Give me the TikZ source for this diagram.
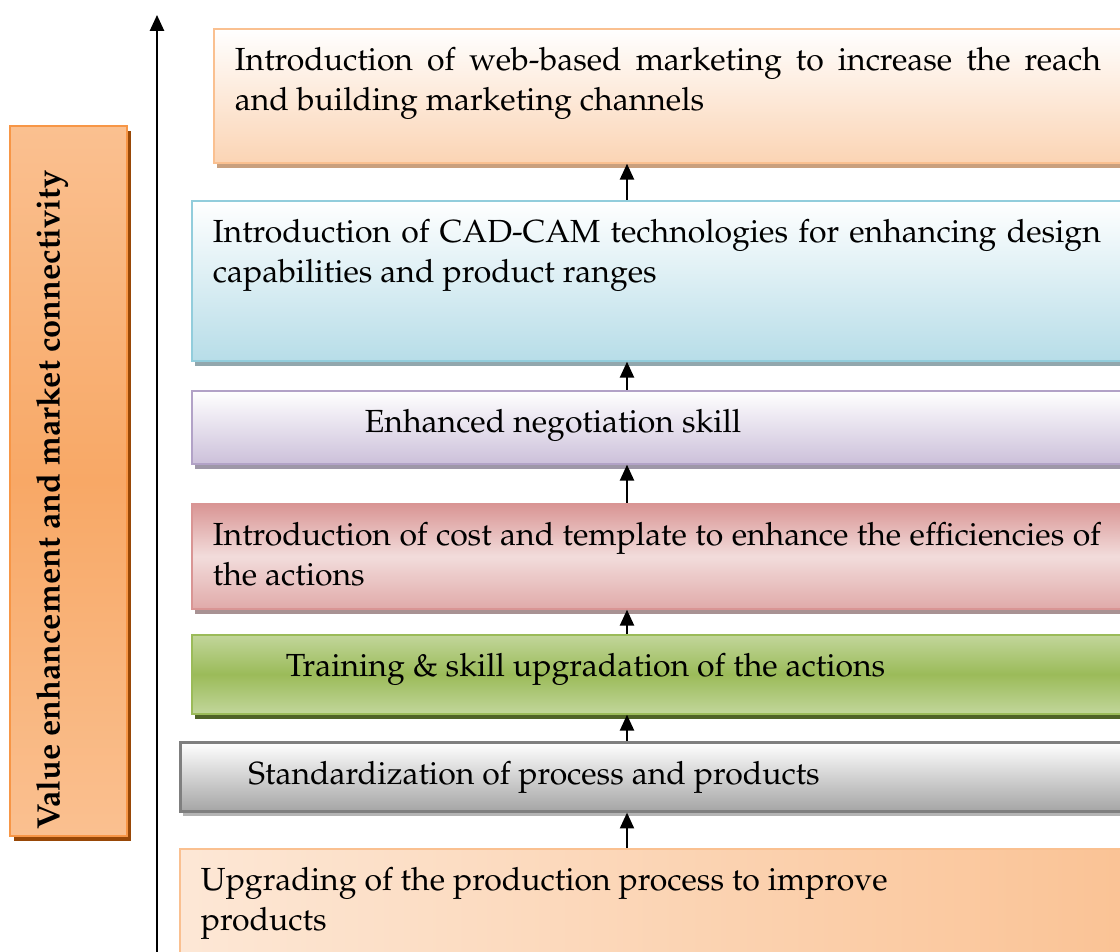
\documentclass[tikz,border=0pt]{standalone}
\usepackage[T1]{fontenc}
\usepackage{palatino}
\usetikzlibrary{arrows.meta,shadows}

\definecolor{peachline}{HTML}{FAC090}
\definecolor{peachfill}{HTML}{FBD4B4}
\definecolor{peachshade}{HTML}{C9A07E}
\definecolor{blueline}{HTML}{92CDDC}
\definecolor{bluefill}{HTML}{B7DDE8}
\definecolor{blueshade}{HTML}{92A7AD}
\definecolor{lilacline}{HTML}{B2A2C7}
\definecolor{lilacfill}{HTML}{CCC0DA}
\definecolor{lilacshade}{HTML}{9E97A8}
\definecolor{roseline}{HTML}{D99594}
\definecolor{rosefill}{HTML}{F2DCDB}
\definecolor{roseshade}{HTML}{A89293}
\definecolor{greenline}{HTML}{9BBB59}
\definecolor{greenfill}{HTML}{C2D69B}
\definecolor{greenshade}{HTML}{4F6228}
\definecolor{greyline}{HTML}{7F7F7F}
\definecolor{greyfill}{HTML}{A5A5A5}
\definecolor{greyshade}{HTML}{B4B4B4}
\definecolor{sideline}{HTML}{F79646}
\definecolor{sidefill}{HTML}{FAC090}
\definecolor{sidemid}{HTML}{F8A866}
\definecolor{sideshade}{HTML}{984807}

% text of a stage box: height, width, text (top aligned, no hyphens)
\newcommand{\stagetext}[3]{\parbox[c][#1][t]{#2}{\hyphenpenalty=10000\vspace*{0.2cm}\strut #3}}

\begin{document}
\begin{tikzpicture}[>={Triangle[width=8pt,length=9pt]},
 font=\fontsize{18.2}{22.8}\selectfont,
 stage/.style={draw=#1,line width=1pt,anchor=north west,inner xsep=0.42cm,inner ysep=0.08cm},
 hatch/.style={drop shadow={shadow xshift=0.06cm,shadow yshift=-0.1cm,fill=#1,opacity=1}}]
\useasboundingbox (0,0) rectangle (22.4,19.02);
\clip (0,0) rectangle (22.4,19.02);

% the stages, bottom one last
\node[stage=peachline,top color=white,bottom color=peachfill,hatch=peachshade] (web) at (4.26,18.46)
 {\stagetext{2.52cm}{17.32cm}{Introduction of web-based marketing to increase the reach and building marketing channels}};
\node[stage=blueline,top color=white,bottom color=bluefill,hatch=blueshade] (cad) at (3.82,15.02)
 {\stagetext{3.04cm}{17.76cm}{Introduction of CAD-CAM technologies for enhancing design capabilities and product ranges}};
\node[stage=lilacline,top color=white,bottom color=lilacfill,hatch=lilacshade] (nego) at (3.82,11.22)
 {\stagetext{1.30cm}{17.76cm}{\hspace*{3.04cm}Enhanced negotiation skill}};
\node[stage=roseline,top color=roseline,bottom color=roseline!70!rosefill,middle color=rosefill,hatch=roseshade] (cost) at (3.82,8.96)
 {\stagetext{1.94cm}{17.76cm}{Introduction of cost and template to enhance the efficiencies of the actions}};
\node[stage=greenline,top color=greenfill,bottom color=greenfill,middle color=greenline,hatch=greenshade] (train) at (3.82,6.34)
 {\stagetext{1.42cm}{17.76cm}{\hspace*{1.46cm}Training \& skill upgradation of the actions}};
\node[stage=greyline,line width=1.5pt,top color=white,bottom color=greyfill,hatch=greyshade] (std) at (3.58,4.2)
 {\stagetext{1.22cm}{18cm}{\hspace*{0.94cm}Standardization of process and products}};
\node[stage=peachline,left color=peachfill!55!white,right color=peachline!85!peachfill] (upg) at (3.58,2.06)
 {\stagetext{2.3cm}{18cm}{Upgrading of the production process to improve\newline products}};

% links between the stages
\coordinate (ax) at (12.54,0);
\foreach \lo/\hi in {cad/web,nego/cad,cost/nego,train/cost,std/train,upg/std}
 \draw[->,line width=1.1pt] (\lo.north -| ax) -- (\hi.south -| ax);

% value axis
\coordinate (axbot) at (3.14,-0.2);
\coordinate (axtop) at (3.14,18.72);
\draw[->,line width=1.1pt] (axbot) -- (axtop);

\node[draw=sideline,line width=1.5pt,minimum width=2.34cm,minimum height=14.2cm,
 top color=sidefill,bottom color=sidefill,middle color=sidemid,
 drop shadow={shadow xshift=0.08cm,shadow yshift=-0.1cm,fill=sideshade,opacity=1}] (side) at (1.37,9.4) {};
\node[rotate=90,font=\fontsize{18.5}{22.8}\selectfont\bfseries] (sidetext) at (1.04,9.02) {Value enhancement and market connectivity};
\end{tikzpicture}
\end{document}
